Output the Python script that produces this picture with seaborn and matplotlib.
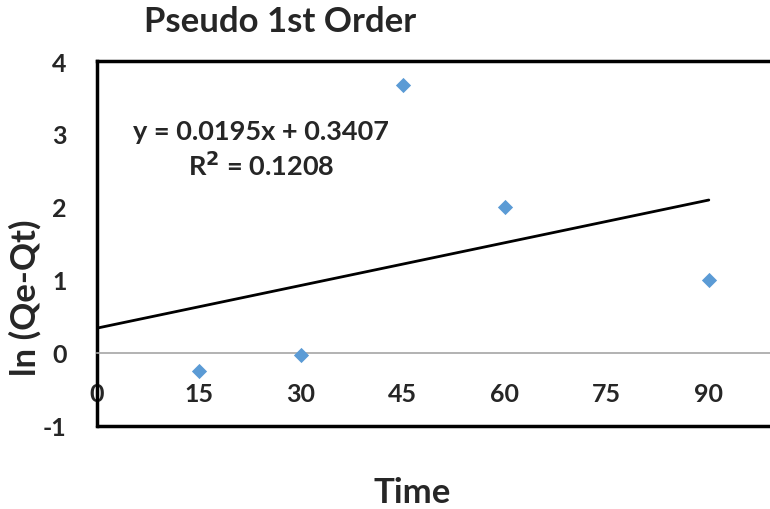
import numpy as np
import pandas as pd
import matplotlib.pyplot as plt
import seaborn as sns

# Data
time = [15, 30, 45, 60, 90]
ln_qe_qt = [-0.25, -0.03, 3.67, 2.0, 1.0]

# Excel trendline shown on the chart
slope = 0.0195
intercept = 0.3407
r_squared = 0.1208

x_ticks = [0, 15, 30, 45, 60, 75, 90]
y_ticks = [-1, 0, 1, 2, 3, 4]

sns.set_theme(style="white")
plt.rcParams['font.family'] = ['Lato', 'DejaVu Sans']
plt.rcParams['font.weight'] = 'bold'
plt.rcParams['axes.unicode_minus'] = False

df = pd.DataFrame({"Time": time, "ln": ln_qe_qt})

fig = plt.figure(figsize=(7.7, 5.1), dpi=100)
ax = fig.add_axes([97 / 770, 83 / 510, 1 - 97 / 770, 365 / 510])

# trendline from x=0 to last x
trend_x = np.array([0, max(time)])
trend = pd.DataFrame({"Time": trend_x, "fit": slope * trend_x + intercept})
sns.lineplot(data=trend, x="Time", y="fit", color="black", linewidth=2, ax=ax)

sns.scatterplot(data=df, x="Time", y="ln", marker="D", s=60, color="#5B9BD5",
                edgecolor="#5B9BD5", linewidth=0, ax=ax, zorder=3)

ax.set_xlabel("")
ax.set_ylabel("")

# Excel style: horizontal axis crosses at 0, frame around plot area
ax.spines["bottom"].set_position(("data", 0))
ax.spines["bottom"].set_color("#A6A6A6")
ax.spines["bottom"].set_linewidth(1.2)
ax.spines["left"].set_color("black")
ax.spines["left"].set_linewidth(2.5)
ax.spines["top"].set_color("black")
ax.spines["top"].set_linewidth(2.5)
ax.spines["right"].set_visible(False)
ax.axhline(-1, color="black", linewidth=2.5, clip_on=False, zorder=5)

ax.set_xlim(0, 99)
ax.set_ylim(-1, 4)
ax.set_xticks(x_ticks)
ax.set_yticks(y_ticks)
ax.tick_params(axis="x", length=0, pad=21, labelsize=18)
ax.tick_params(axis="y", length=0, pad=22, labelsize=18)
for lbl in ax.get_xticklabels() + ax.get_yticklabels():
    lbl.set_fontweight("bold")

ax.text(24.1, 2.79, f"y = {slope}x + {intercept}\nR$^2$ = {r_squared}",
        ha="center", va="center", multialignment="center", fontsize=19.5,
        fontweight="bold", linespacing=1.3)

fig.text(280 / 770, 1 - 22 / 510, "Pseudo 1st Order", ha="center", va="center",
         fontsize=25, fontweight="bold")
fig.text(412 / 770, 1 - 493 / 510, "Time", ha="center", va="center",
         fontsize=25, fontweight="bold")
fig.text(25 / 770, 1 - 298 / 510, "ln (Qe-Qt)", ha="center", va="center",
         rotation=90, fontsize=25, fontweight="bold")

plt.savefig("out.png", dpi=100)
